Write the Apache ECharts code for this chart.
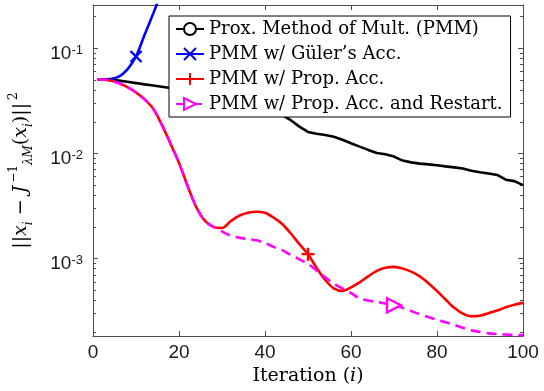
<!DOCTYPE html>
<html>
<head>
<meta charset="utf-8">
<script src="https://cdn.jsdelivr.net/npm/echarts@6/dist/echarts.min.js"></script>
<style>
  html, body { margin: 0; padding: 0; background: #fff; }
  #chart { width: 544px; height: 391px; }
</style>
</head>
<body>
<div id="chart"></div>
<script>
// iteration index shared by all curves
const iterations = [1, 2, 4, 6, 8, 10, 12, 14, 16, 18, 20, 22, 24, 26, 28, 30, 32, 34, 36, 38, 40,
  42, 44, 46, 48, 50, 52, 54, 56, 58, 60, 62, 64, 66, 68, 70, 72, 74, 76, 78, 80,
  82, 84, 86, 88, 90, 92, 94, 96, 98, 100]

const pmm = [0.0507, 0.0506, 0.0502, 0.0493, 0.0480, 0.0467, 0.0454, 0.0443, 0.0431, 0.0419,
  0.0405, 0.0389, 0.0372, 0.0355, 0.0339, 0.0324, 0.0309, 0.0295, 0.0282, 0.0269, 0.0257,
  0.0245, 0.0232, 0.0207, 0.0180, 0.0160, 0.0154, 0.0150, 0.0144, 0.0135, 0.0125,
  0.0116, 0.0108, 0.0101, 0.00982, 0.00933, 0.00855, 0.00822, 0.00800, 0.00787, 0.00771,
  0.00753, 0.00736, 0.00719, 0.00684, 0.00661, 0.00643, 0.00624, 0.00562, 0.00545, 0.00499]

// diverges quickly, only the first iterations are inside the plot
const guler = [0.0507, 0.0507, 0.0511, 0.0537, 0.0631, 0.0836, 0.135, 0.214, 0.347, 0.562]

const propAcc = [0.0507, 0.0506, 0.0495, 0.0468, 0.0427, 0.0380, 0.0327, 0.0266, 0.0188, 0.01245,
  0.00813, 0.00490, 0.00309, 0.00229, 0.00200, 0.00195, 0.00226, 0.00255, 0.00272, 0.00279, 0.00273,
  0.00245, 0.00213, 0.00173, 0.00137, 0.00110, 0.000813, 0.000624, 0.000519, 0.000491, 0.000531,
  0.000592, 0.000676, 0.000762, 0.000817, 0.000832, 0.000804, 0.000750, 0.000676, 0.000582, 0.000490,
  0.000407, 0.000339, 0.000299, 0.000282, 0.000285, 0.000302, 0.000320, 0.000343, 0.000363, 0.000378]

const propAccRestart = [0.0507, 0.0506, 0.0495, 0.0468, 0.0427, 0.0380, 0.0327, 0.0266, 0.0188, 0.01245,
  0.00813, 0.00490, 0.00309, 0.00229, 0.00200, 0.00181, 0.00165, 0.00158, 0.00153, 0.00149, 0.00140,
  0.00129, 0.00120, 0.00108, 0.000982, 0.000891, 0.000767, 0.000661, 0.000578, 0.000519, 0.000468,
  0.000417, 0.000398, 0.000386, 0.000373, 0.000359, 0.000339, 0.000316, 0.000295, 0.000277, 0.000261,
  0.000248, 0.000234, 0.000219, 0.000207, 0.000200, 0.000194, 0.000191, 0.000189, 0.000187, 0.000186]

const seriesNames = ['Prox. Method of Mult. (PMM)', 'PMM w/ Güler’s Acc.', 'PMM w/ Prop. Acc.', 'PMM w/ Prop. Acc. and Restart.']
const markerIter = [30, 10, 50, 70]

const xTicks = [0, 20, 40, 60, 80, 100]
const yMajorTicks = [1e-3, 1e-2, 1e-1]
const yMinorTicks = [2e-4, 3e-4, 4e-4, 5e-4, 6e-4, 7e-4, 8e-4, 9e-4,
  2e-3, 3e-3, 4e-3, 5e-3, 6e-3, 7e-3, 8e-3, 9e-3,
  2e-2, 3e-2, 4e-2, 5e-2, 6e-2, 7e-2, 8e-2, 9e-2, 2e-1]

const yMin = 1.83e-4
const yMax = 0.2585

const axisColor = '#4d4d4d'
const sansFont = 'Liberation Sans, Arial, Helvetica, sans-serif'
const serifFont = 'DejaVu Serif, serif'

// one marker per curve, like the MATLAB figure
function toPoints (values, markAt) {
  return values.map((v, k) => {
    const item = { value: [iterations[k], v] }
    if (iterations[k] !== markAt) item.symbol = 'none'
    return item
  })
}

const chart = echarts.init(document.getElementById('chart'))

const yBase = {
  type: 'log',
  logBase: 10,
  min: yMin,
  max: yMax,
  splitLine: { show: false },
  axisLine: { show: true, lineStyle: { color: axisColor, width: 1 } }
}

const option = {
  animation: false,
  backgroundColor: '#fff',
  grid: { left: 91, right: 21, top: 5, bottom: 55 },
  legend: {
    orient: 'vertical',
    left: 169,
    top: 16,
    itemWidth: 28,
    itemHeight: 15,
    itemGap: 5,
    padding: [3, 8, 3, 6],
    backgroundColor: '#fff',
    borderColor: '#000',
    borderWidth: 1,
    textStyle: { fontFamily: serifFont, fontSize: 18, color: '#000', lineHeight: 20 },
    data: seriesNames
  },
  xAxis: [
    {
      type: 'value',
      position: 'bottom',
      min: xTicks[0],
      max: xTicks[xTicks.length - 1],
      interval: xTicks[1] - xTicks[0],
      splitLine: { show: false },
      axisLine: { lineStyle: { color: axisColor, width: 1 } },
      axisTick: { inside: true, length: 5, lineStyle: { color: axisColor } },
      axisLabel: { color: '#1a1a1a', fontSize: 19, fontFamily: sansFont, margin: 7 },
      name: '{n|Iteration (}{it|i}{n|)}',
      nameLocation: 'middle',
      nameGap: 31,
      nameTextStyle: {
        rich: {
          n: { fontFamily: serifFont, fontSize: 19, color: '#000' },
          it: { fontFamily: serifFont, fontSize: 19, fontStyle: 'italic', color: '#000' }
        }
      }
    },
    {
      type: 'value',
      position: 'top',
      min: xTicks[0],
      max: xTicks[xTicks.length - 1],
      interval: xTicks[1] - xTicks[0],
      splitLine: { show: false },
      axisLine: { lineStyle: { color: axisColor, width: 1 } },
      axisTick: { inside: true, length: 5, lineStyle: { color: axisColor } },
      axisLabel: { show: false }
    }
  ],
  yAxis: [
    Object.assign({}, yBase, {
      position: 'left',
      axisTick: { inside: true, length: 5, customValues: yMajorTicks, lineStyle: { color: axisColor } },
      axisLabel: {
        customValues: yMajorTicks,
        margin: 10,
        formatter: (v) => '{b|10}{s|' + Math.round(Math.log10(v)) + '}',
        rich: {
          b: { fontFamily: sansFont, fontSize: 19, lineHeight: 19, color: '#1a1a1a', padding: [10, 0, 0, 0] },
          s: { fontFamily: sansFont, fontSize: 13, lineHeight: 13, color: '#1a1a1a', verticalAlign: 'top', padding: [5, 0, 0, 0] }
        }
      },
      name: '{n|||}{it|x}{sub|i}{n| − }{it|J}{sup|−1}{sub|λM}{n|(}{it|x}{sub|i}{n|)||}{sup|2}',
      nameLocation: 'middle',
      nameRotate: 90,
      nameGap: 58,
      nameTextStyle: {
        rich: {
          n: { fontFamily: serifFont, fontSize: 19, lineHeight: 27, color: '#000' },
          it: { fontFamily: serifFont, fontSize: 19, lineHeight: 27, fontStyle: 'italic', color: '#000' },
          sub: { fontFamily: serifFont, fontSize: 12, lineHeight: 14, fontStyle: 'italic', verticalAlign: 'bottom', color: '#000' },
          sup: { fontFamily: serifFont, fontSize: 12, lineHeight: 14, verticalAlign: 'top', padding: [0, 0, 0, 3], color: '#000' }
        }
      }
    }),
    Object.assign({}, yBase, {
      position: 'left',
      axisLine: { show: false },
      axisTick: { inside: true, length: 3, customValues: yMinorTicks, lineStyle: { color: axisColor } },
      axisLabel: { show: false }
    }),
    Object.assign({}, yBase, {
      position: 'right',
      axisTick: { inside: true, length: 5, customValues: yMajorTicks, lineStyle: { color: axisColor } },
      axisLabel: { show: false }
    }),
    Object.assign({}, yBase, {
      position: 'right',
      axisLine: { show: false },
      axisTick: { inside: true, length: 3, customValues: yMinorTicks, lineStyle: { color: axisColor } },
      axisLabel: { show: false }
    })
  ],
  series: [
    {
      name: seriesNames[0],
      type: 'line',
      data: toPoints(pmm, markerIter[0]),
      symbol: 'emptyCircle',
      symbolSize: 12,
      lineStyle: { color: '#000', width: 2.6 },
      itemStyle: { color: '#000', borderColor: '#000', borderWidth: 2 }
    },
    {
      name: seriesNames[1],
      type: 'line',
      data: toPoints(guler, markerIter[1]),
      smooth: 0.3,
      symbol: 'path://M0,0L10,10M10,0L0,10',
      symbolSize: 11,
      lineStyle: { color: '#0000ff', width: 2.6 },
      itemStyle: { color: '#0000ff', borderColor: '#0000ff', borderWidth: 2.4 }
    },
    {
      name: seriesNames[2],
      type: 'line',
      data: toPoints(propAcc, markerIter[2]),
      smooth: 0.3,
      symbol: 'path://M5,0L5,10M0,5L10,5',
      symbolSize: 13,
      lineStyle: { color: '#ff0000', width: 2.6 },
      itemStyle: { color: '#ff0000', borderColor: '#ff0000', borderWidth: 2.4 }
    },
    {
      name: seriesNames[3],
      type: 'line',
      data: toPoints(propAccRestart, markerIter[3]),
      smooth: 0.3,
      symbol: 'path://M0,0L10,5L0,10Z',
      symbolSize: 14,
      lineStyle: { color: '#ff00ff', width: 2.6, type: [10, 6] },
      itemStyle: { color: '#fff', borderColor: '#ff00ff', borderWidth: 2.4 }
    }
  ]
}

chart.setOption(option)
</script>
</body>
</html>
